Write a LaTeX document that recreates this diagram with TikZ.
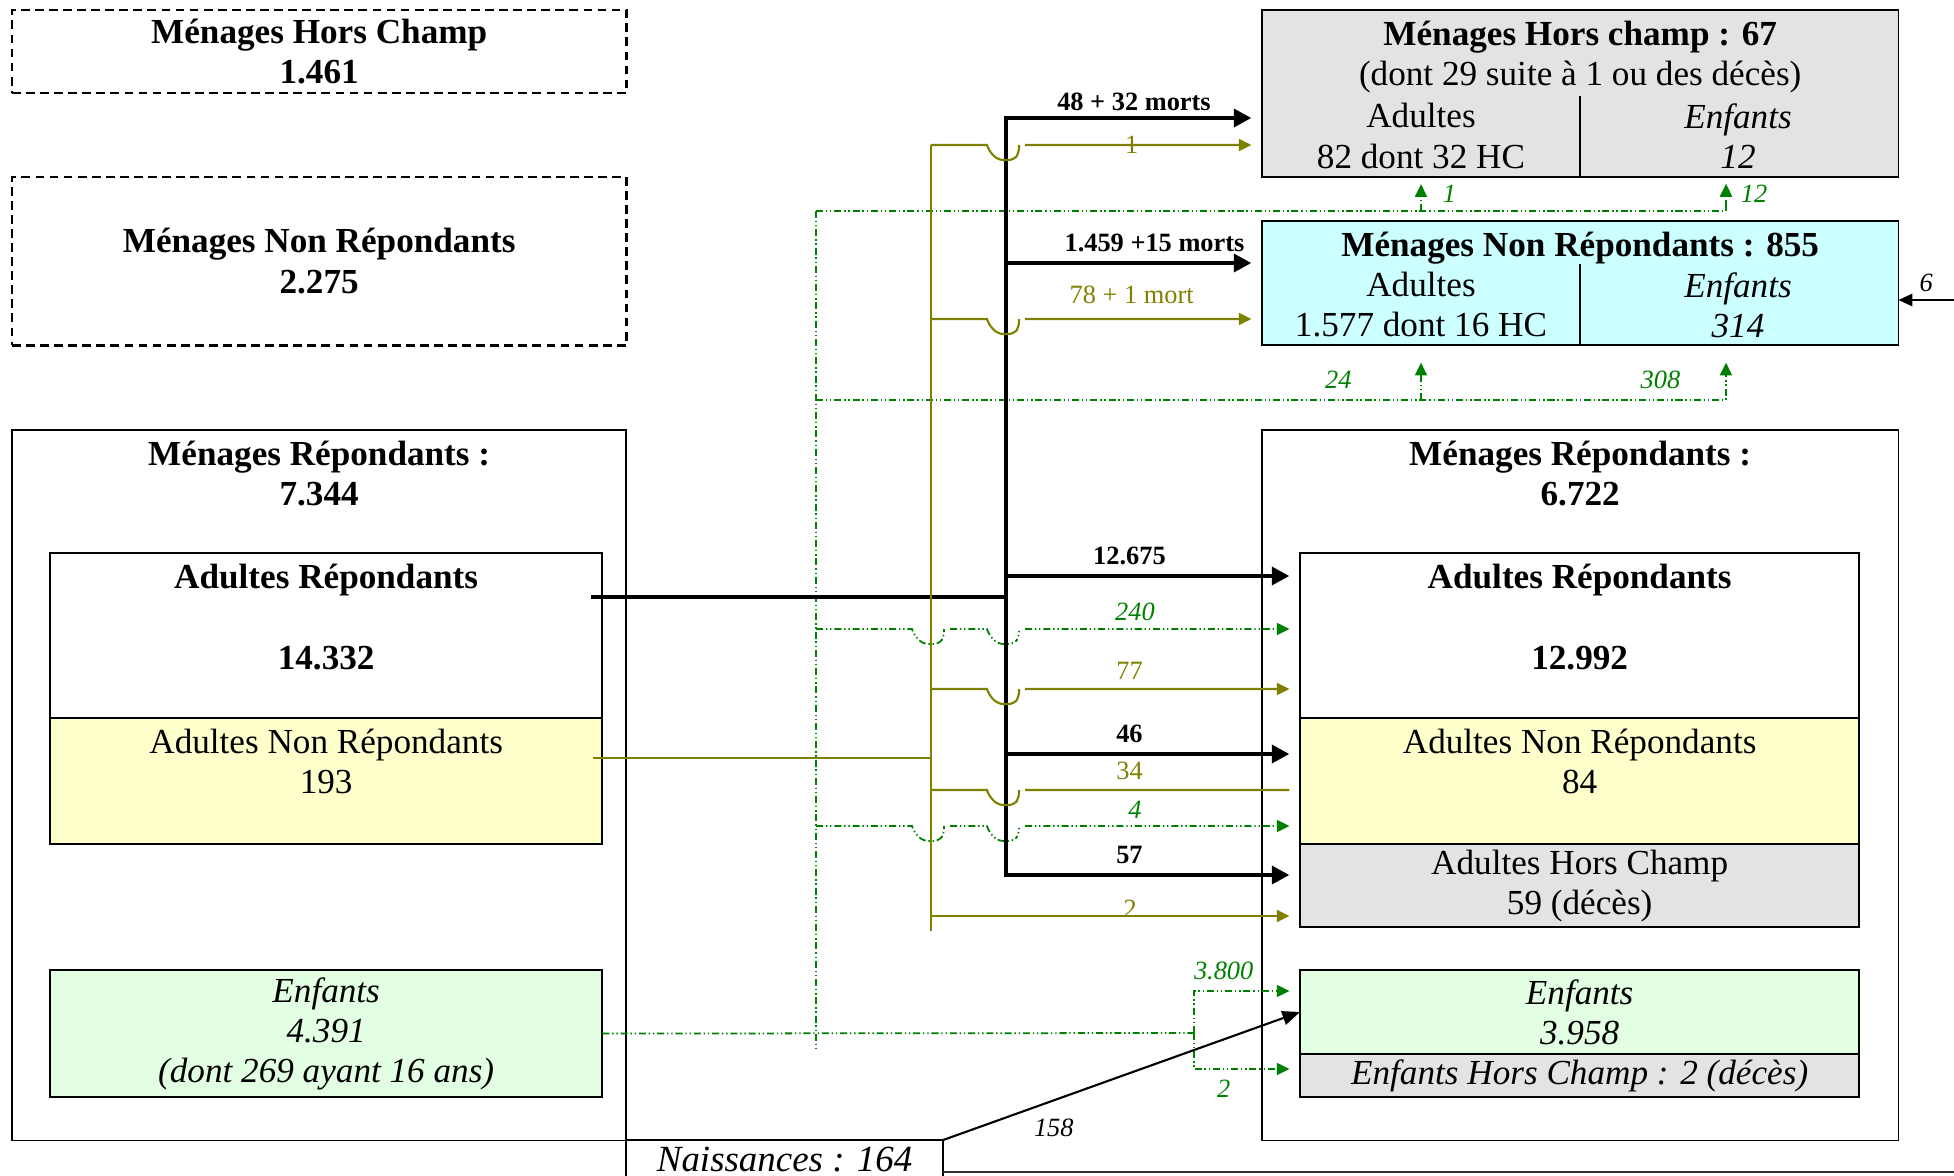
\documentclass[tikz,border=0pt]{standalone}
\usepackage{fontspec}
\setmainfont{Liberation Serif}
\usetikzlibrary{positioning,arrows.meta}

\definecolor{olivefonce}{RGB}{128,128,0}
\definecolor{vertfonce}{RGB}{0,128,0}
\definecolor{grisclair}{RGB}{227,227,227}
\definecolor{cyanclair}{RGB}{204,255,255}
\definecolor{jauneclair}{RGB}{255,255,204}
\definecolor{vertclair}{RGB}{227,255,227}

\tikzset{
    %Define style for boxes
    boite/.style={
           rectangle,
           draw=black, line width=0.5pt,
           outer sep=0pt, inner sep=0pt,
           anchor=north west},
    pointille/.style={
           boite,
           line width=0.8pt,
           dash pattern=on 2.5pt off 1.5pt},
    texte/.style={
           align=center,
           inner sep=0pt},
    % Define arrow styles
    noir/.style={
           line width=1.3pt,
           line cap=rect},
    noirfl/.style={
           noir,
           -{Triangle[length=5pt,width=5pt]},
           shorten >=3pt},
    olv/.style={
           draw=olivefonce,
           line width=0.6pt},
    olvfl/.style={
           olv,
           -{Triangle[length=3.6pt,width=3.4pt]},
           shorten >=3pt},
    vrt/.style={
           draw=vertfonce,
           line width=0.5pt,
           dash pattern=on 2pt off 0.8pt on 0.4pt off 0.8pt on 0.4pt off 0.8pt},
    vrtfl/.style={
           vrt,
           -{Triangle[length=3.6pt,width=3.4pt]},
           shorten >=3pt},
    % Define label styles
    lbln/.style={font=\fontsize{7.5}{9}\selectfont\bfseries, inner sep=1pt},
    lblo/.style={font=\fontsize{7.5}{9}\selectfont, text=olivefonce, inner sep=1pt},
    lblv/.style={font=\fontsize{7.5}{9}\selectfont\itshape, text=vertfonce, inner sep=1pt},
    lbl/.style={font=\fontsize{7.5}{9}\selectfont\itshape, inner sep=1pt}
}
% Little dip of a line passing under another one: #1 = x of the crossed line, #2 = y of the line
\newcommand*{\saut}[2]{-- (#1-19,#2) [rounded corners=1.5pt] -- (#1-17,#2+6) -- (#1-8,#2+15) -- (#1+8,#2+15) -- (#1+13,#2+8) [sharp corners] -- (#1+13,#2) (#1+19,#2)}

\begin{document}
\fontsize{10}{11.4}\selectfont
\begin{tikzpicture}[x=0.01cm,y=-0.01cm]
\useasboundingbox (0,0) rectangle (1954,1176);

% Left side: households at the start
\node[pointille, minimum width=6.14cm, minimum height=0.83cm, align=center, font=\bfseries] (mhcG) at (12,10) {Ménages Hors Champ\\1.461};
\node[pointille, minimum width=6.14cm, minimum height=1.68cm, align=center, font=\bfseries] (mnrG) at (12,177) {Ménages Non Répondants\\2.275};
\node[boite, minimum width=6.14cm, minimum height=7.10cm] (mrG) at (12,430) {};
\node[texte, font=\bfseries, below=3pt of mrG.north] (mrGt) {Ménages Répondants :\\7.344};
\node[boite, minimum width=5.52cm, minimum height=1.65cm] (arG) at (50,553) {};
\node[texte, font=\bfseries, below=3pt of arG.north] (arGt) {Adultes Répondants\\[11.5pt]14.332};
\node[boite, fill=jauneclair, minimum width=5.52cm, minimum height=1.26cm, below=0pt of arG] (anrG) {};
\node[texte, below=3pt of anrG.north] (anrGt) {Adultes Non Répondants\\193};
\node[boite, fill=vertclair, minimum width=5.52cm, minimum height=1.27cm, align=center, font=\itshape] (enG) at (50,970) {Enfants\\4.391\\(dont 269 ayant 16 ans)};
\node[boite, minimum width=3.17cm, minimum height=0.40cm, font=\fontsize{10.5}{13}\selectfont\itshape] (nais) at (626,1140) {Naissances : 164};

% Right side: households at the end
\node[boite, fill=grisclair, minimum width=6.36cm, minimum height=1.67cm] (mhcD) at (1262,10) {};
\node[texte, below=3pt of mhcD.north] (mhcDt) {\textbf{Ménages Hors champ : 67}\\(dont 29 suite à 1 ou des décès)};
\node[texte] (mhcDa) at (1421,136) {Adultes\\82 dont 32 HC};
\node[texte, font=\itshape] (mhcDe) at (1738,136) {Enfants\\12};
\draw (mhcD.south) -- ++(0,-81);

\node[boite, fill=cyanclair, minimum width=6.36cm, minimum height=1.24cm] (mnrD) at (1262,221) {};
\node[texte, font=\bfseries, below=3pt of mnrD.north] (mnrDt) {Ménages Non Répondants : 855};
\node[texte] (mnrDa) at (1421,305) {Adultes\\1.577 dont 16 HC};
\node[texte, font=\itshape] (mnrDe) at (1738,305) {Enfants\\314};
\draw (mnrD.south) -- ++(0,-81);

\node[boite, minimum width=6.36cm, minimum height=7.10cm] (mrD) at (1262,430) {};
\node[texte, font=\bfseries, below=3pt of mrD.north] (mrDt) {Ménages Répondants :\\6.722};
\node[boite, minimum width=5.59cm, minimum height=1.65cm] (arD) at (1300,553) {};
\node[texte, font=\bfseries, below=3pt of arD.north] (arDt) {Adultes Répondants\\[11.5pt]12.992};
\node[boite, fill=jauneclair, minimum width=5.59cm, minimum height=1.26cm, below=0pt of arD] (anrD) {};
\node[texte, below=3pt of anrD.north] (anrDt) {Adultes Non Répondants\\84};
\node[boite, fill=grisclair, minimum width=5.59cm, minimum height=0.83cm, align=center, below=0pt of anrD] (ahcD) {Adultes Hors Champ\\59 (décès)};
\node[boite, fill=vertclair, minimum width=5.59cm, minimum height=0.84cm, align=center, font=\itshape] (enD) at (1300,970) {Enfants\\3.958};
\node[boite, fill=grisclair, minimum width=5.59cm, minimum height=0.43cm, font=\itshape, below=0pt of enD] (ehcD) {Enfants Hors Champ : 2 (décès)};

% Green flows: children
\coordinate (tv1) at (816,211);
\coordinate (tv2) at (816,1050);
\coordinate (tv3) at (1194,1033);
\coordinate (xe) at (1726,0);
\draw[vrt] (tv1) -- (tv2);
\draw[vrtfl, shorten >=2pt] (tv1) -| (mhcD.south -| xe);
\draw[vrtfl, shorten >=2pt] (tv1 -| mhcDa) -- (mhcD.south -| mhcDa) node[lblv, midway, right=5pt] (lv1) {1};
\draw[vrtfl, shorten >=2pt] (tv1 -| xe) -- (mhcD.south -| xe) node[lblv, midway, right=3pt] (lv12) {12};
\draw[vrtfl, shorten >=5pt] (tv1 |- 0,400) -| (mnrD.south -| xe) node[lblv, pos=.287, above=2pt] (lv24) {24} node[lblv, pos=.464, above=2pt] (lv308) {308};
\draw[vrtfl, shorten >=5pt] (mnrDa |- 0,400) -- (mnrD.south -| mnrDa);
\draw[vrtfl] (tv1 |- 0,629) \saut{931}{629} \saut{1006}{629} -- (arD.west |- 0,629) node[lblv, pos=.4, above=1pt] (lv240) {240};
\draw[vrtfl] (tv1 |- 0,826) \saut{931}{826} \saut{1006}{826} -- (anrD.west |- 0,826) node[lblv, pos=.4, above=1pt] (lv4) {4};
\draw[vrt] (enG.east) -- (tv3);
\draw[vrtfl] (tv3) |- (enD.west |- 0,991) node[lblv, pos=.64, above=2pt] (lv3800) {3.800};
\draw[vrtfl] (tv3) |- (ehcD.west |- 0,1069) node[lblv, pos=.64, below=2pt] (lv2) {2};

% Black flows: responding adults
\coordinate (tn1) at (1006,118);
\coordinate (tn2) at (1006,875);
\draw[noir] (arG.east |- 0,597) ++(-9,0) -- (tn1 |- 0,597);
\draw[noir] (tn1) -- (tn2);
\draw[noirfl] (tn1) -- (mhcD.west |- tn1) node[lbln, midway, above=0.5pt] (ln48) {48 + 32 morts};
\draw[noirfl] (tn1 |- 0,263) -- (mnrD.west |- 0,263) node[lbln, pos=.58, above=1.5pt] (ln1459) {1.459 +15 morts};
\draw[noirfl] (tn1 |- 0,576) -- (arD.west |- 0,576) node[lbln, pos=.42, above=1.5pt] (ln12675) {12.675};
\draw[noirfl] (tn1 |- 0,754) -- (anrD.west |- 0,754) node[lbln, pos=.42, above=1.5pt] (ln46) {46};
\draw[noirfl] (tn2) -- (ahcD.west |- tn2) node[lbln, pos=.42, above=1.5pt] (ln57) {57};

% Olive flows: non responding adults
\coordinate (to1) at (931,145);
\coordinate (to2) at (931,931);
\draw[olv] (anrG.east |- 0,758) ++(-9,0) -- (to1 |- 0,758);
\draw[olv] (to1) -- (to2);
\draw[olvfl] (to1) \saut{1006}{145} -- (mhcD.west |- to1) node[lblo, pos=.45] (lo1) {1};
\draw[olvfl] (to1 |- 0,319) \saut{1006}{319} -- (mnrD.west |- 0,319) node[lblo, pos=.45, above=3pt] (lo78) {78 + 1 mort};
\draw[olvfl] (to1 |- 0,689) \saut{1006}{689} -- (arD.west |- 0,689) node[lblo, pos=.38, above=1.5pt] (lo77) {77};
\draw[olv, shorten >=3pt] (to1 |- 0,790) \saut{1006}{790} -- (anrD.west |- 0,790) node[lblo, pos=.38, above=1.5pt] (lo34) {34};
\draw[olvfl] (to1 |- 0,916) -- (ahcD.west |- 0,916) node[lblo, pos=.54, yshift=2pt] (lo2) {2};

% Births and the 6 coming from outside
\coordinate (b6) at (1954,300);
\coordinate (bd) at (1954,1172);
\draw[line width=0.6pt, -{Triangle[length=5pt,width=4pt]}] (nais.north east) -- (enD.west) node[lbl, pos=.31, below=4pt] (l158) {158};
\draw[line width=0.6pt, -{Triangle[length=4pt,width=3.5pt]}] (b6) -- (mnrD.east |- b6) node[lbl, midway, above=1pt] (l6) {6};
\draw[line width=0.8pt, black!80] (nais.east |- bd) -- (bd);
\end{tikzpicture}
\end{document}
